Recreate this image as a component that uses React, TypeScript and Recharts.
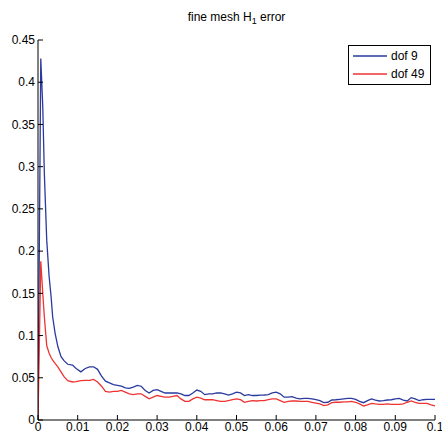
import { LineChart, Line, XAxis, YAxis, Legend } from 'recharts';

// sample positions (x)
const xs = [
  0, 0.0007, 0.0012, 0.0016, 0.0022, 0.0028, 0.0033, 0.0037, 0.0043, 0.005,
  0.0058, 0.0066, 0.0075, 0.0087, 0.0096, 0.0108, 0.0119,
  0.013, 0.014, 0.015, 0.016, 0.017, 0.018, 0.019, 0.02,
  0.021, 0.022, 0.023, 0.024, 0.025, 0.026, 0.027, 0.028, 0.029, 0.03,
  0.031, 0.032, 0.033, 0.034, 0.035, 0.036, 0.037, 0.038, 0.039, 0.04,
  0.041, 0.042, 0.043, 0.044, 0.045, 0.046, 0.047, 0.048, 0.049, 0.05,
  0.051, 0.052, 0.053, 0.054, 0.055, 0.056, 0.057, 0.058, 0.059, 0.06,
  0.061, 0.062, 0.063, 0.064, 0.065, 0.066, 0.067, 0.068, 0.069, 0.07,
  0.071, 0.072, 0.073, 0.074, 0.075, 0.076, 0.077, 0.078, 0.079, 0.08,
  0.081, 0.082, 0.083, 0.084, 0.085, 0.086, 0.087, 0.088, 0.089, 0.09,
  0.091, 0.092, 0.093, 0.094, 0.095, 0.096, 0.097, 0.098, 0.099, 0.1,
];

const dof9 = [
  0, 0.428, 0.371, 0.292, 0.213, 0.17, 0.146, 0.122, 0.103, 0.087,
  0.075, 0.07, 0.066, 0.065, 0.061, 0.057, 0.061,
  0.063, 0.063, 0.06, 0.052, 0.046, 0.044, 0.042, 0.041,
  0.04, 0.038, 0.0375, 0.039, 0.041, 0.04, 0.035, 0.032, 0.035, 0.036,
  0.034, 0.032, 0.032, 0.032, 0.032, 0.031, 0.029, 0.029, 0.032, 0.0355,
  0.034, 0.03, 0.031, 0.031, 0.032, 0.032, 0.031, 0.0296, 0.031, 0.033,
  0.032, 0.029, 0.03, 0.029, 0.029, 0.0295, 0.0296, 0.03, 0.032, 0.033,
  0.031, 0.027, 0.027, 0.0276, 0.026, 0.025, 0.0255, 0.0257, 0.025, 0.024,
  0.023, 0.0205, 0.021, 0.0237, 0.024, 0.0245, 0.025, 0.0255, 0.0257, 0.0245,
  0.022, 0.0205, 0.023, 0.025, 0.0235, 0.0225, 0.023, 0.0237, 0.024, 0.025,
  0.0257, 0.0235, 0.0225, 0.0265, 0.025, 0.023, 0.024, 0.0245, 0.0245, 0.0245,
];

const dof49 = [
  0, 0.188, 0.15, 0.122, 0.088, 0.079, 0.074, 0.071, 0.067, 0.063,
  0.057, 0.051, 0.0466, 0.045, 0.0455, 0.0466, 0.047,
  0.047, 0.048, 0.045, 0.04, 0.034, 0.033, 0.034, 0.034,
  0.035, 0.033, 0.031, 0.03, 0.031, 0.031, 0.028, 0.025, 0.027, 0.029,
  0.028, 0.027, 0.027, 0.028, 0.029, 0.025, 0.022, 0.022, 0.025, 0.027,
  0.026, 0.024, 0.024, 0.024, 0.023, 0.022, 0.022, 0.023, 0.024, 0.025,
  0.024, 0.021, 0.022, 0.023, 0.0225, 0.023, 0.023, 0.024, 0.025, 0.025,
  0.023, 0.021, 0.022, 0.0225, 0.0225, 0.022, 0.022, 0.022, 0.021, 0.02,
  0.019, 0.017, 0.018, 0.0205, 0.021, 0.021, 0.0215, 0.0215, 0.022, 0.021,
  0.019, 0.0166, 0.018, 0.0197, 0.019, 0.0185, 0.0186, 0.019, 0.0185, 0.0185,
  0.0186, 0.019, 0.021, 0.0225, 0.021, 0.0197, 0.0197, 0.0197, 0.018, 0.0166,
];

const xTicks = [0, 0.01, 0.02, 0.03, 0.04, 0.05, 0.06, 0.07, 0.08, 0.09, 0.1];
const yTicks = [0, 0.05, 0.1, 0.15, 0.2, 0.25, 0.3, 0.35, 0.4, 0.45];

const BLUE = '#2b3a9e';
const RED = '#ee3333';
const FONT = '"Liberation Sans", Arial, Helvetica, sans-serif';

const data = xs.map((x, i) => ({ x, dof9: dof9[i], dof49: dof49[i] }));

function LegendBox() {
  const items = [
    { label: 'dof 9', color: BLUE },
    { label: 'dof 49', color: RED },
  ];
  return (
    <div style={{ width: 81, height: 38, border: '1px solid #000', background: '#fff', position: 'relative', fontFamily: FONT, fontSize: 12, color: '#000' }}>
      {items.map((it, i) => (
        <div key={it.label} style={{ position: 'absolute', left: 0, top: 2 + i * 18, height: 16, display: 'flex', alignItems: 'center' }}>
          <svg width={42} height={16}>
            <line x1={4} x2={38} y1={8} y2={8} stroke={it.color} strokeWidth={1.3} />
          </svg>
          <span style={{ lineHeight: '16px' }}>{it.label}</span>
        </div>
      ))}
    </div>
  );
}

export default function App() {
  const tickStyle = { fill: '#000', fontSize: 12, fontFamily: FONT };
  return (
    <div style={{ position: 'absolute', left: 0, top: 0, width: 442, height: 440, background: '#fff' }}>
      <div style={{ position: 'absolute', left: 38, width: 397, top: 10, textAlign: 'center', fontFamily: FONT, fontSize: 12, color: '#000' }}>
        fine mesh H<sub style={{ fontSize: 9 }}>1</sub> error
      </div>
      <LineChart width={442} height={440} data={data} margin={{ top: 40, right: 7, bottom: 0, left: 0 }}>
        <XAxis
          xAxisId="b"
          dataKey="x"
          type="number"
          domain={[0, 0.1]}
          ticks={xTicks}
          interval={0}
          allowDataOverflow
          height={20}
          stroke="#000"
          tickSize={-5}
          tickMargin={7}
          tick={tickStyle}
          tickFormatter={(v) => String(v)}
        />
        <XAxis
          xAxisId="t"
          orientation="top"
          dataKey="x"
          type="number"
          domain={[0, 0.1]}
          ticks={xTicks}
          interval={0}
          allowDataOverflow
          height={0}
          stroke="#000"
          tickSize={-5}
          tick={false}
        />
        <YAxis
          yAxisId="l"
          type="number"
          domain={[0, 0.45]}
          ticks={yTicks}
          interval={0}
          allowDataOverflow
          width={38}
          stroke="#000"
          tickSize={-5}
          tickMargin={8}
          tick={tickStyle}
          tickFormatter={(v) => String(v)}
        />
        <YAxis
          yAxisId="r"
          orientation="right"
          type="number"
          domain={[0, 0.45]}
          ticks={yTicks}
          interval={0}
          allowDataOverflow
          width={0}
          stroke="#000"
          tickSize={-5}
          tick={false}
        />
        <Legend
          layout="horizontal"
          align="center"
          verticalAlign="middle"
          wrapperStyle={{ top: 45, left: 348, width: 83, height: 40 }}
          content={() => <LegendBox />}
        />
        <Line xAxisId="b" yAxisId="l" type="linear" dataKey="dof9" name="dof 9" stroke={BLUE} strokeWidth={1.3} dot={false} isAnimationActive={false} />
        <Line xAxisId="b" yAxisId="l" type="linear" dataKey="dof49" name="dof 49" stroke={RED} strokeWidth={1.3} dot={false} isAnimationActive={false} />
      </LineChart>
    </div>
  );
}
